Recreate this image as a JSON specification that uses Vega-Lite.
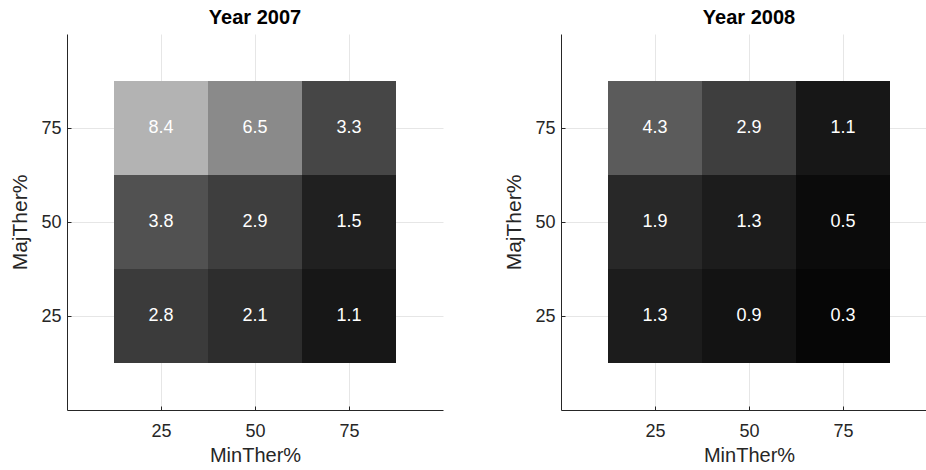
{
  "$schema": "https://vega.github.io/schema/vega-lite/v6.json",
  "padding": {"left": 9, "top": 8, "right": 0, "bottom": 0},
  "data": {"values": [
    {"year": 2007, "MinTher": 25, "MajTher": 75, "value": 8.4},
    {"year": 2007, "MinTher": 50, "MajTher": 75, "value": 6.5},
    {"year": 2007, "MinTher": 75, "MajTher": 75, "value": 3.3},
    {"year": 2007, "MinTher": 25, "MajTher": 50, "value": 3.8},
    {"year": 2007, "MinTher": 50, "MajTher": 50, "value": 2.9},
    {"year": 2007, "MinTher": 75, "MajTher": 50, "value": 1.5},
    {"year": 2007, "MinTher": 25, "MajTher": 25, "value": 2.8},
    {"year": 2007, "MinTher": 50, "MajTher": 25, "value": 2.1},
    {"year": 2007, "MinTher": 75, "MajTher": 25, "value": 1.1},
    {"year": 2008, "MinTher": 25, "MajTher": 75, "value": 4.3},
    {"year": 2008, "MinTher": 50, "MajTher": 75, "value": 2.9},
    {"year": 2008, "MinTher": 75, "MajTher": 75, "value": 1.1},
    {"year": 2008, "MinTher": 25, "MajTher": 50, "value": 1.9},
    {"year": 2008, "MinTher": 50, "MajTher": 50, "value": 1.3},
    {"year": 2008, "MinTher": 75, "MajTher": 50, "value": 0.5},
    {"year": 2008, "MinTher": 25, "MajTher": 25, "value": 1.3},
    {"year": 2008, "MinTher": 50, "MajTher": 25, "value": 0.9},
    {"year": 2008, "MinTher": 75, "MajTher": 25, "value": 0.3}
  ]},
  "facet": {"column": {"field": "year", "type": "ordinal", "header": {
    "title": null, "labelExpr": "'Year ' + datum.value", "labelFontWeight": "bold",
    "labelFontSize": 20, "labelFont": "Liberation Sans", "labelColor": "black", "labelPadding": 6}}},
  "spacing": 118,
  "bounds": "flush",
  "resolve": {"axis": {"y": "independent", "x": "independent"}, "scale": {"color": "shared"}},
  "spec": {
    "width": 376,
    "height": 376,
    "encoding": {
      "x": {"field": "MinTher", "type": "quantitative", "title": "MinTher%",
        "scale": {"domain": [0, 100], "nice": false, "zero": false},
        "axis": {"values": [25, 50, 75], "labelPadding": 16, "titlePadding": 5, "titleFontSize": 20}},
      "y": {"field": "MajTher", "type": "quantitative", "title": "MajTher%",
        "scale": {"domain": [0, 100], "nice": false, "zero": false},
        "axis": {"values": [25, 50, 75], "labelPadding": 10, "titlePadding": 10}}
    },
    "layer": [
      {"mark": {"type": "point", "shape": "square", "filled": true, "size": 8836, "opacity": 1, "strokeWidth": 0},
       "encoding": {"color": {"field": "value", "type": "quantitative",
         "scale": {"domain": [0, 12], "range": ["#000000", "#ffffff"], "interpolate": "rgb"}, "legend": null}}},
      {"mark": {"type": "text", "color": "#ffffff", "fontSize": 18, "font": "Liberation Sans"},
       "encoding": {"text": {"field": "value", "type": "quantitative", "format": ".1f"}}}
    ]
  },
  "config": {
    "view": {"stroke": null},
    "font": "Liberation Sans",
    "axis": {
      "domainColor": "#262626", "domainWidth": 1,
      "tickColor": "#262626", "tickSize": -4, "tickWidth": 1,
      "gridColor": "#e6e6e6", "gridWidth": 1,
      "labelColor": "#262626", "labelFontSize": 18, "labelFont": "Liberation Sans",
      "titleColor": "#262626", "titleFontSize": 21, "titleFont": "Liberation Sans", "titleFontWeight": "normal"
    }
  }
}
